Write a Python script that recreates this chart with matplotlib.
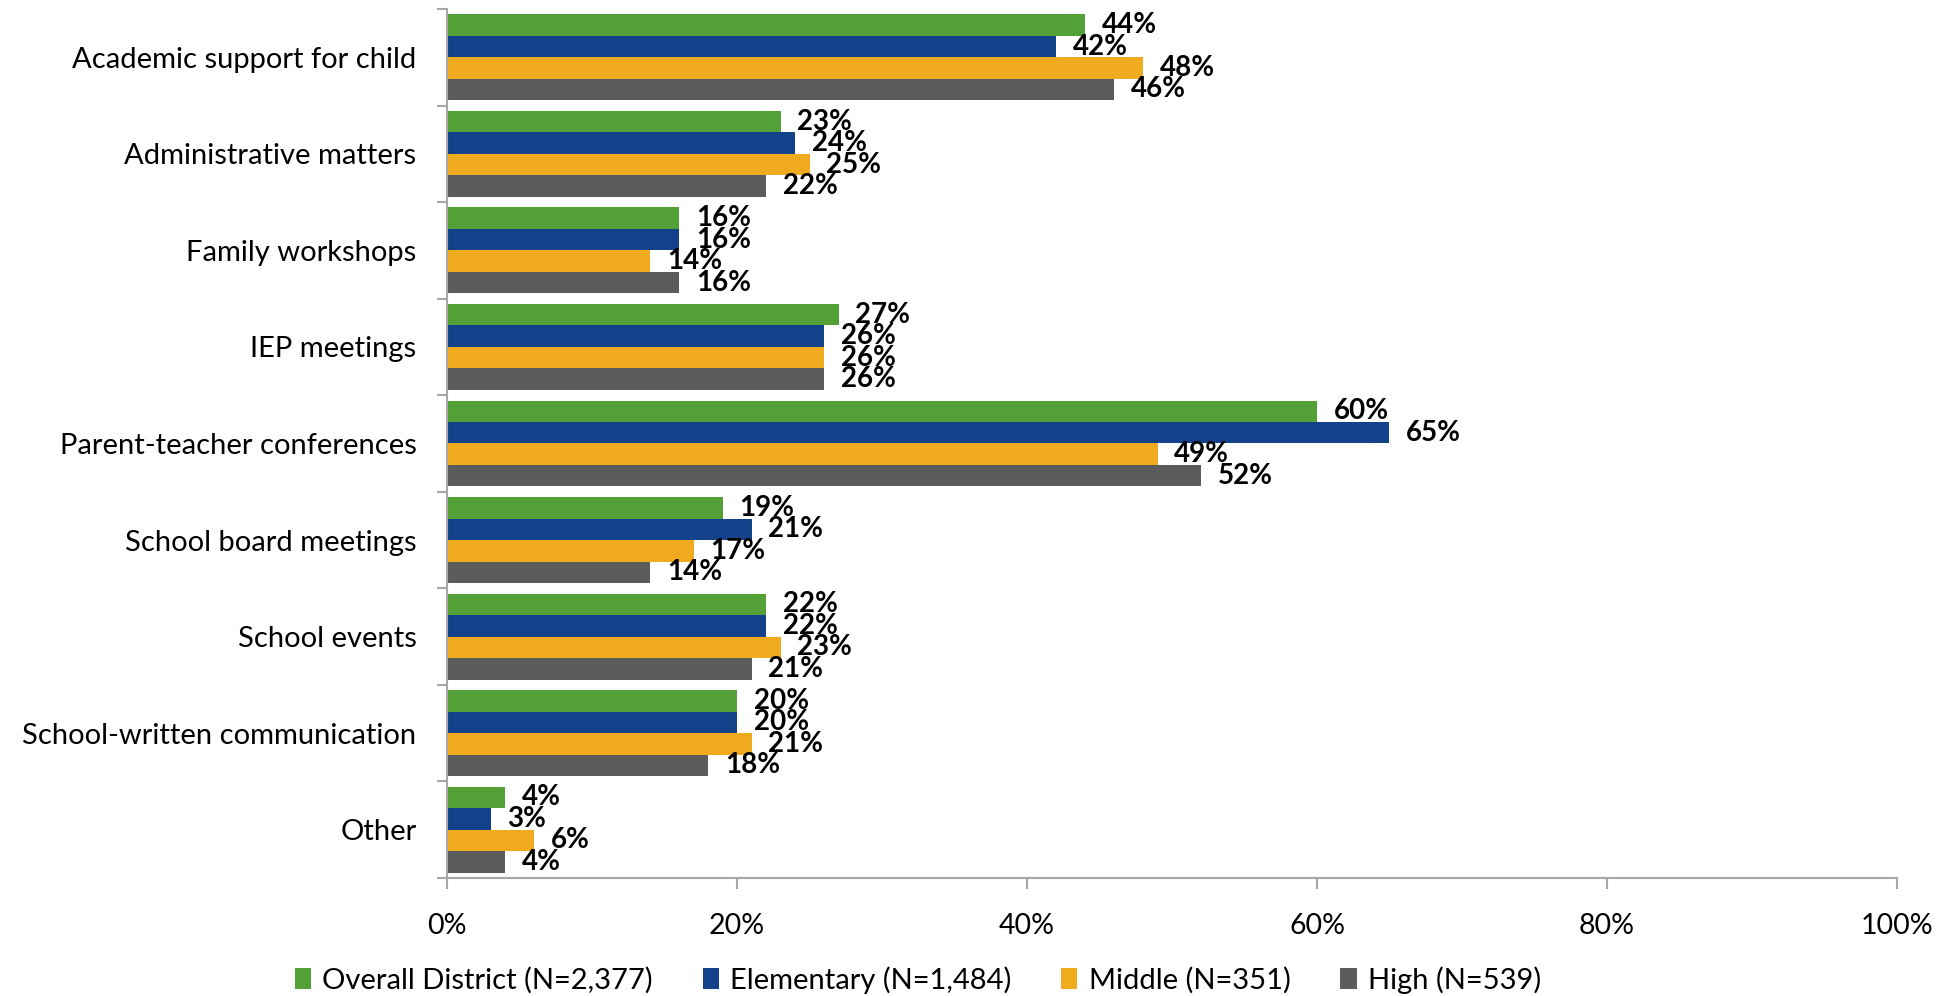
import matplotlib.pyplot as plt
import numpy as np
from matplotlib.patches import Patch

categories = ['Academic support for child', 'Administrative matters', 'Family workshops',
              'IEP meetings', 'Parent-teacher conferences', 'School board meetings',
              'School events', 'School-written communication', 'Other']
overall = [44, 23, 16, 27, 60, 19, 22, 20, 4]
elementary = [42, 24, 16, 26, 65, 21, 22, 20, 3]
middle = [48, 25, 14, 26, 49, 17, 23, 21, 6]
high = [46, 22, 16, 26, 52, 14, 21, 18, 4]
series_names = ['Overall District (N=2,377)', 'Elementary (N=1,484)',
                'Middle (N=351)', 'High (N=539)']
colors = ['#53A037', '#13428A', '#F0AA1D', '#5B5B5B']

plt.rcParams['font.family'] = ['Lato', 'DejaVu Sans']

fig = plt.figure(figsize=(19.55, 9.96), dpi=100)
ax = fig.add_axes([0.2287, 0.1185, 0.9703 - 0.2287, 0.991 - 0.1185])

series = [overall, elementary, middle, high]
n = len(categories)
y = np.arange(n)
bar_h = 0.2225

for i, (vals, col) in enumerate(zip(series, colors)):
    ypos = y + (i - 1.5) * bar_h
    ax.barh(ypos, vals, height=bar_h, color=col, edgecolor='none')
    for yy, v in zip(ypos, vals):
        ax.annotate(f'{v}%', (v, yy), xytext=(12, 0), textcoords='offset points',
                    ha='left', va='center', fontsize=20, fontweight='bold', color='black')

ax.set_ylim(n - 0.5, -0.5)
ax.set_xlim(0, 100)

ax.set_yticks(y)
ax.set_yticklabels(categories, fontsize=21)
ax.set_yticks(np.arange(-0.5, n, 1), minor=True)
ax.tick_params(axis='y', which='major', length=0, pad=22)
ax.tick_params(axis='y', which='minor', length=7, width=1.5, color='#A6A6A6', direction='out')

ax.set_xticks(np.arange(0, 101, 20))
ax.set_xticklabels([f'{t}%' for t in range(0, 101, 20)], fontsize=20.5)
ax.tick_params(axis='x', length=8, width=1.5, color='#A6A6A6', pad=17)

for side in ['top', 'right']:
    ax.spines[side].set_visible(False)
for side in ['left', 'bottom']:
    ax.spines[side].set_color('#A6A6A6')
    ax.spines[side].set_linewidth(1.5)

handles = [Patch(facecolor=c, edgecolor='none') for c in colors]
fig.legend(handles, series_names, loc='center', bbox_to_anchor=(0.4696, 0.016),
           ncol=4, frameon=False, fontsize=21, handlelength=0.55, handleheight=0.75,
           handletextpad=0.4, columnspacing=1.7)

fig.savefig('out.png', dpi=100)
